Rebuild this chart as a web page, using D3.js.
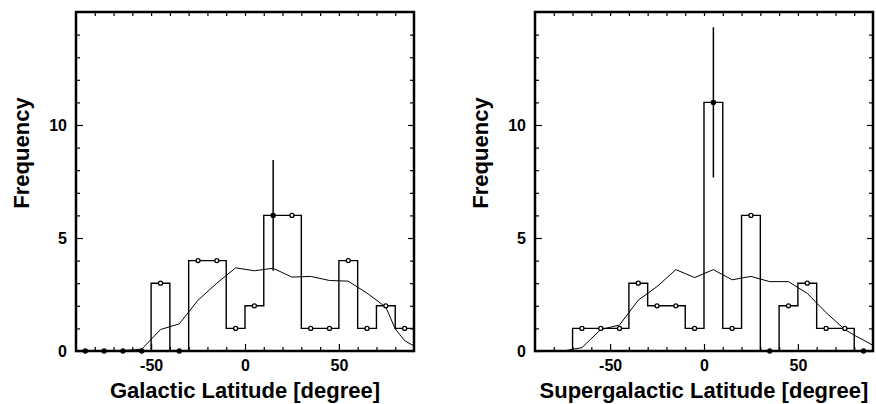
<!DOCTYPE html>
<html>
<head>
<meta charset="utf-8">
<script src="https://cdn.jsdelivr.net/npm/d3@7"></script>
<style>
    body { margin: 0; background: #fff; }
    svg { display: block; font-family: "Liberation Sans", Arial, Helvetica, sans-serif; font-weight: bold; }
</style>
</head>
<body>
<svg id="chart"></svg>
<script>
// bins are 10 degrees wide, values at bin centres
const binCenters = [-85, -75, -65, -55, -45, -35, -25, -15, -5, 5, 15, 25, 35, 45, 55, 65, 75, 85];

const galCounts = [0, 0, 0, 0, 3, 0, 4, 4, 1, 2, 6, 6, 1, 1, 4, 1, 2, 1];
const sgCounts = [null, null, 1, 1, 1, 3, 2, 2, 1, 11, 1, 6, 0, 2, 3, 1, 1, 0];

// expected distribution (thin curve)
const modelX = [-90, -85, -75, -65, -55, -45, -35, -25, -15, -5, 5, 15, 25, 35, 45, 55, 65, 75, 80, 85, 90];
const galModel = [0, 0, 0, 0.02, 0.08, 0.95, 1.2, 2.25, 3.0, 3.68, 3.55, 3.66, 3.27, 3.3, 3.12, 3.09, 2.56, 1.94, 0.98, 0.46, 0.22];
const sgModel = [0, 0, 0, 0.15, 0.95, 1.15, 2.25, 2.85, 3.6, 3.25, 3.6, 3.15, 3.3, 3.07, 3.07, 2.55, 1.7, 0.95, 0.7, 0.48, 0.25];

// error bar: [x, value, sigma]
const galErr = [15, 6, 2.45];
const sgErr = [5, 11, 3.32];

const xMajor = [-50, 0, 50];
const xMinor = [-80, -70, -60, -40, -30, -20, -10, 10, 20, 30, 40, 60, 70, 80];
const yMajor = [0, 5, 10];
const yMinor = [1, 2, 3, 4, 6, 7, 8, 9, 11, 12, 13, 14];

const W = 876, H = 404;

class Histplot {
    constructor(svg, counts, model, err, xTitle, left) {
        this.svg = svg;
        this.counts = counts;
        this.model = model;
        this.err = err;
        this.xTitle = xTitle;
        this.left = left;
        this.width = 338;
        this.top = 12;
        this.bottom = 351;
    }

    draw() {
        const g = this.svg.append("g");
        const x = d3.scaleLinear().domain([-90, 90]).range([this.left, this.left + this.width]);
        const y = d3.scaleLinear().domain([0, 15]).range([this.bottom, this.top]);

        // step outline of the histogram
        const bins = binCenters.map((c, i) => ({ x0: c - 5, x1: c + 5, v: this.counts[i] }))
            .filter(d => d.v !== null);
        const pts = bins.map(d => [d.x0, d.v]);
        pts.push([bins[bins.length - 1].x1, bins[bins.length - 1].v]);
        const step = d3.line().x(d => x(d[0])).y(d => y(d[1])).curve(d3.curveStepAfter);
        const first = bins[0], last = bins[bins.length - 1];
        g.append("path")
            .attr("d", `M${x(first.x0)},${y(0)}L` + step(pts).slice(1) + `L${x(last.x1)},${y(0)}`)
            .attr("fill", "none")
            .attr("stroke", "#000")
            .attr("stroke-width", 1.4);

        // model curve
        g.append("path")
            .datum(this.model)
            .attr("d", d3.line().x((d, i) => x(modelX[i])).y(d => y(d)))
            .attr("fill", "none")
            .attr("stroke", "#000")
            .attr("stroke-width", 1);

        // points at bin centres
        g.selectAll("circle")
            .data(bins)
            .join("circle")
            .attr("cx", d => x((d.x0 + d.x1) / 2))
            .attr("cy", d => y(d.v))
            .attr("r", 2)
            .attr("fill", "#fff")
            .attr("stroke", "#000")
            .attr("stroke-width", 1.3);

        // error bar
        const [ex, ev, es] = this.err;
        g.append("line")
            .attr("x1", x(ex)).attr("x2", x(ex))
            .attr("y1", y(ev - es)).attr("y2", y(ev + es))
            .attr("stroke", "#000")
            .attr("stroke-width", 1.5);
        g.append("circle")
            .attr("cx", x(ex)).attr("cy", y(ev)).attr("r", 2.4).attr("fill", "#000");

        // ticks on all four sides, inward
        const tickAxis = (axis, tr) => {
            const a = g.append("g").attr("transform", tr).call(axis);
            a.select(".domain").remove();
            a.selectAll("line").attr("stroke-width", 1.2);
            a.selectAll("text")
                .style("font-family", "'Liberation Sans', Arial, sans-serif")
                .style("font-weight", "bold")
                .style("font-size", "16px")
                .attr("fill", "#000");
            return a;
        };
        const fmt = d => String(d);
        tickAxis(d3.axisBottom(x).tickValues(xMinor).tickSize(-4).tickFormat(""), `translate(0,${this.bottom})`);
        tickAxis(d3.axisBottom(x).tickValues(xMajor).tickSize(-7).tickPadding(9).tickFormat(fmt), `translate(0,${this.bottom})`);
        tickAxis(d3.axisTop(x).tickValues(xMinor.concat(xMajor)).tickSize(-4).tickFormat(""), `translate(0,${this.top})`);
        tickAxis(d3.axisLeft(y).tickValues(yMinor).tickSize(-4).tickFormat(""), `translate(${this.left},0)`);
        tickAxis(d3.axisLeft(y).tickValues(yMajor).tickSize(-7).tickPadding(9).tickFormat(fmt), `translate(${this.left},0)`);
        tickAxis(d3.axisRight(y).tickValues(yMinor).tickSize(-4).tickFormat(""), `translate(${this.left + this.width},0)`);
        tickAxis(d3.axisRight(y).tickValues(yMajor).tickSize(-6).tickFormat(""), `translate(${this.left + this.width},0)`);

        // frame
        g.append("rect")
            .attr("x", this.left).attr("y", this.top)
            .attr("width", this.width).attr("height", this.bottom - this.top)
            .attr("fill", "none")
            .attr("stroke", "#000")
            .attr("stroke-width", 2.5);

        g.append("text")
            .attr("text-anchor", "middle")
            .attr("x", this.left + this.width / 2)
            .attr("y", 398)
            .style("font-size", "22px")
            .text(this.xTitle);

        g.append("text")
            .attr("text-anchor", "middle")
            .attr("transform", `translate(${this.left - 47},${153}) rotate(-90)`)
            .style("font-size", "22px")
            .text("Frequency");
    }
}

const svg = d3.select("#chart").attr("width", W).attr("height", H);
svg.append("rect").attr("width", W).attr("height", H).attr("fill", "#fff");

new Histplot(svg, galCounts, galModel, galErr, "Galactic Latitude [degree]", 76).draw();
new Histplot(svg, sgCounts, sgModel, sgErr, "Supergalactic Latitude [degree]", 535).draw();
</script>
</body>
</html>
